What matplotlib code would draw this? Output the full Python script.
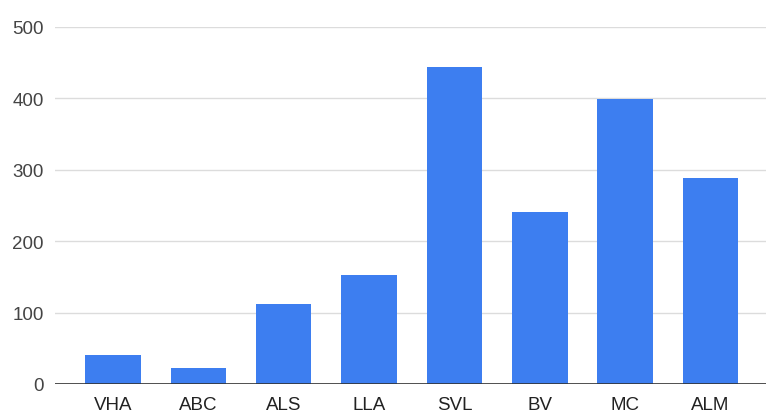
import matplotlib.pyplot as plt
import numpy as np

plt.rcParams['font.family'] = ['Liberation Sans', 'DejaVu Sans']

# counts per site
sites = ["VHA", "ABC", "ALS", "LLA", "SVL", "BV", "MC", "ALM"]
counts = [41, 22, 112, 153, 444, 241, 399, 288]
yticks = [0, 100, 200, 300, 400, 500]

fig = plt.figure(figsize=(7.66, 4.14), dpi=100)
ax = fig.add_axes([55 / 766, 29 / 414, 711 / 766, 357 / 414])

x = np.arange(len(sites))
ax.bar(x, counts, width=0.65, color="#3d7ef0", zorder=3)

ax.set_xlim(-0.68, 7.65)
ax.set_ylim(0, 500)
ax.set_yticks(yticks)
ax.set_xticks(x)
ax.set_xticklabels(sites)

ax.grid(axis="y", color="#dcdcdc", linewidth=1, zorder=0)
ax.axhline(0, color="#333333", linewidth=1.2, zorder=4)
for s in ax.spines.values():
    s.set_visible(False)

ax.tick_params(axis="y", length=0, pad=8, labelsize=13.5, labelcolor="#444444")
ax.tick_params(axis="x", length=0, pad=9, labelsize=13.5, labelcolor="#222222")

fig.savefig("out.png", dpi=100)
